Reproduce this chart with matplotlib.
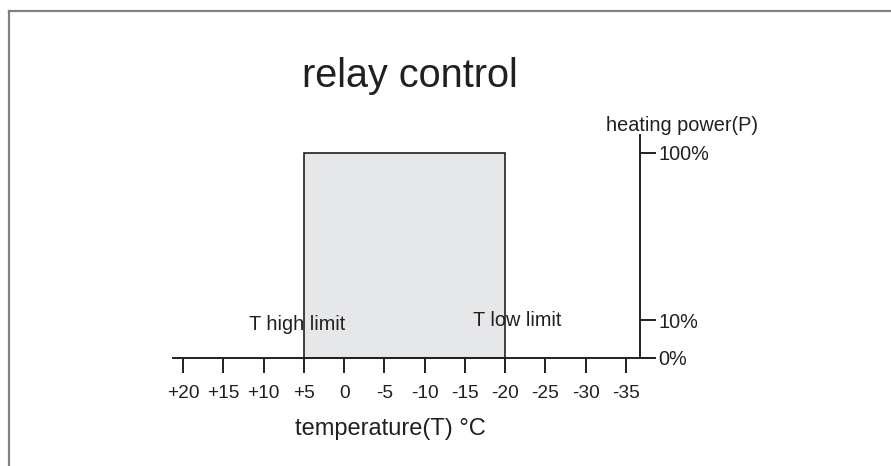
import matplotlib
matplotlib.use("Agg")
import matplotlib.pyplot as plt
import matplotlib.transforms as mtrans
from matplotlib.lines import Line2D

# ---- data ----
temp_ticks = [20, 15, 10, 5, 0, -5, -10, -15, -20, -25, -30, -35]
temp_labels = ["+20", "+15", "+10", "+5", "0", "-5", "-10", "-15", "-20", "-25", "-30", "-35"]
power_ticks = [0, 18.5, 100]
power_labels = ["0%", "10%", "100%"]
t_high = 5
t_low = -20
power_on = 100

plt.rcParams['font.family'] = ['Liberation Sans', 'DejaVu Sans']
ink = '#231f20'

fig = plt.figure(figsize=(8.91, 4.66), dpi=100)
ax = fig.add_axes([0, 0, 1, 1])
ax.set_xlim(42.72, -67.9)
ax.set_ylim(-52.7, 174.6)

# relay region
ax.bar(x=t_high, height=power_on, width=t_low - t_high, bottom=0, align='edge',
       color='#e6e7e8', edgecolor=ink, linewidth=1.2, zorder=1)

# spines as axes
for s in ['left', 'top']:
    ax.spines[s].set_visible(False)
ax.spines['bottom'].set_position(('data', 0))
ax.spines['bottom'].set_bounds(21.2, -38.2)
ax.spines['bottom'].set_linewidth(1.4)
ax.spines['bottom'].set_color(ink)
ax.spines['right'].set_position(('data', -36.7))
ax.spines['right'].set_bounds(0, 108.8)
ax.spines['right'].set_linewidth(1.4)
ax.spines['right'].set_color(ink)
ax.spines['bottom'].set_zorder(3)
ax.spines['right'].set_zorder(3)

ax.set_xticks(temp_ticks)
ax.set_xticklabels(temp_labels)
ax.tick_params(axis='x', direction='out', length=11, width=1.4, color=ink,
               labelsize=13.8, labelcolor=ink, pad=8.5)
ax.yaxis.tick_right()
ax.set_yticks(power_ticks)
ax.set_yticklabels(power_labels)
ax.tick_params(axis='y', direction='out', length=11.5, width=1.4, color=ink,
               labelsize=14.3, labelcolor=ink, pad=2)
ax.set_facecolor('none')

# texts
ax.text(0.46, 0.837, "relay control", transform=fig.transFigure, ha='center',
        va='center', fontsize=28.5, color=ink)
ax.text(0.438, 0.079, "temperature(T) \u00b0C", transform=fig.transFigure,
        ha='center', va='center', fontsize=17, color=ink)
ax.text(0.7655, 0.731, "heating power(P)", transform=fig.transFigure,
        ha='center', va='center', fontsize=14.3, color=ink)
ax.text(t_high, 0, "T high limit", ha='center', va='bottom', fontsize=14.3,
        color=ink, transform=ax.transData + mtrans.ScaledTranslation(-0.07, 0.24, fig.dpi_scale_trans))
ax.text(t_low, 0, "T low limit", ha='left', va='bottom', fontsize=14.3,
        color=ink, transform=ax.transData + mtrans.ScaledTranslation(-0.32, 0.28, fig.dpi_scale_trans))

# outer frame
fx = 8.5 / 891
fy = 1 - 10.5 / 466
fig.add_artist(Line2D([fx, fx], [-0.1, fy], transform=fig.transFigure, color='#808080', lw=1.6))
fig.add_artist(Line2D([fx, 1.1], [fy, fy], transform=fig.transFigure, color='#808080', lw=1.6))

fig.savefig("out.png", dpi=100, facecolor='white')
